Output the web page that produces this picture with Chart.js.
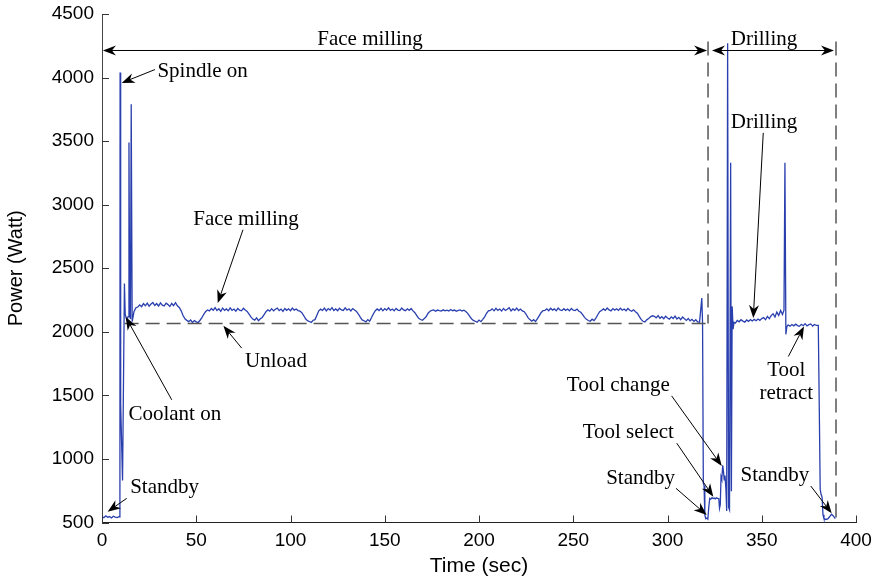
<!DOCTYPE html>
<html>
<head>
<meta charset="utf-8">
<script src="https://cdn.jsdelivr.net/npm/chart.js@4.4.1/dist/chart.umd.min.js"></script>
<style>
  html, body { margin: 0; padding: 0; background: #fff; }
  #wrap { width: 878px; height: 583px; }
</style>
</head>
<body>
<div id="wrap"><canvas id="powerChart" width="878" height="583"></canvas></div>
<script>
// measured machine power over one face milling + drilling cycle
const timeSec = [
  0, 1, 2, 3, 4, 5, 6, 7, 8, 9, 9.5,
  9.6, 9.9, 10.9, 11.9, 12.3, 12.8, 13.3, 13.8, 14.3, 14.7, 15.1, 15.5, 16.0, 16.5, 17, 18,
  19, 20, 21, 22, 23, 24, 25, 26, 27, 28, 29, 30, 31, 32, 33, 34, 35, 36, 37, 38, 39, 40, 41,
  42, 43, 44, 45, 46, 47, 48, 49, 50, 51, 52, 53, 54, 55, 56,
  57, 58, 59, 60, 61, 62, 63, 64, 65, 66, 67, 68, 69, 70, 71, 72, 73, 74, 75, 76, 77,
  78, 79, 80, 81, 82, 83, 84, 85, 86, 87,
  88, 89, 90, 91, 92, 93, 94, 95, 96, 97, 98, 99, 100, 101, 102, 103, 104, 105,
  106, 107, 108, 109, 110, 111, 112, 113, 114, 115,
  116, 117, 118, 119, 120, 121, 122, 123, 124, 125, 126, 127, 128, 129, 130, 131, 132, 133, 134, 135,
  136, 137, 138, 139, 140, 141, 142, 143, 144, 145,
  146, 147, 148, 149, 150, 151, 152, 153, 154, 155, 156, 157, 158, 159, 160, 161, 162, 163, 164, 165,
  166, 167, 168, 169, 170, 171, 172, 173, 174,
  175, 176, 177, 178, 179, 180, 181, 182, 183, 184, 185, 186, 187, 188, 189, 190, 191, 192, 193,
  194, 195, 196, 197, 198, 199, 200, 201, 202, 203, 204, 205,
  206, 207, 208, 209, 210, 211, 212, 213, 214, 215, 216, 217, 218, 219, 220, 221, 222, 223, 224,
  225, 226, 227, 228, 229, 230, 231, 232, 233, 234,
  235, 236, 237, 238, 239, 240, 241, 242, 243, 244, 245, 246, 247, 248, 249, 250, 251, 252, 253, 254,
  255, 256, 257, 258, 259, 260, 261, 262, 263, 264,
  265, 266, 267, 268, 269, 270, 271, 272, 273, 274, 275, 276, 277, 278, 279, 280, 281, 282, 283, 284,
  285, 286, 287, 288, 289, 290, 291, 292,
  293, 294, 295, 296, 297, 298, 299, 300, 301, 302, 303, 304, 305, 306, 307, 308, 309, 310, 311, 312,
  313, 314, 315, 316, 317,
  318.2, 318.6, 319.0, 319.4, 319.8, 320.3, 320.9, 321.4, 321.9, 322.4, 323, 323.6, 324.2, 324.8,
  325.4, 326, 326.6, 327.2, 327.6, 328.0, 328.4, 328.8, 329.3, 329.7, 330.1, 330.5, 331.0, 331.4,
  331.9, 332.4, 332.9, 333.5, 333.9, 334.3, 334.8, 335.3,
  336, 337, 338, 339, 340, 341, 342, 343, 344, 345, 346, 347, 348, 349, 350, 351, 352, 353, 354,
  355, 356, 357, 358, 359, 360, 361, 361.8,
  362.3, 362.8, 363.3, 364, 365, 366, 367, 368, 369, 370, 371, 372, 373, 374, 375, 376, 377, 378,
  379, 380, 380.6, 381.0, 381.5, 382.0, 382.5, 383, 384, 385, 386, 387, 388, 389
];
const powerW = [
  545, 538, 552, 541, 547, 536, 549, 543, 539, 546, 544,
  4040, 1430, 830, 2380, 2140, 2110, 2090, 2120, 3490, 2130, 2100, 3790, 2080, 2120, 2160, 2190,
  2195, 2212, 2198, 2222, 2205, 2226, 2202, 2218, 2230, 2207, 2222, 2203, 2228, 2210, 2204, 2225, 2214, 2199, 2223, 2206, 2229, 2204, 2192,
  2165, 2128, 2102, 2090, 2080, 2093, 2074, 2089, 2078, 2072, 2091, 2112, 2138, 2160, 2172,
  2165, 2184, 2170, 2190, 2167, 2181, 2161, 2187, 2169, 2180, 2165, 2188, 2168, 2179, 2162, 2184, 2170, 2165, 2185, 2171, 2160,
  2140, 2118, 2100, 2092, 2110, 2088, 2103, 2113, 2135, 2158,
  2173, 2163, 2182, 2165, 2178, 2187, 2167, 2179, 2161, 2184, 2169, 2181, 2166, 2187, 2171, 2180, 2167, 2163,
  2150, 2128, 2102, 2088, 2081, 2074, 2091, 2096, 2130, 2165,
  2178, 2168, 2186, 2165, 2183, 2171, 2190, 2167, 2180, 2166, 2185, 2172, 2168, 2188, 2170, 2181, 2164, 2183, 2171, 2160,
  2140, 2115, 2094, 2087, 2078, 2096, 2084, 2112, 2142, 2166,
  2180, 2167, 2185, 2165, 2182, 2170, 2189, 2168, 2179, 2165, 2184, 2171, 2167, 2187, 2172, 2166, 2181, 2169, 2183, 2165,
  2150, 2128, 2106, 2097, 2091, 2104, 2120, 2146, 2162,
  2168, 2172, 2162, 2171, 2167, 2164, 2173, 2165, 2170, 2163, 2175, 2166, 2171, 2162, 2169, 2172, 2164, 2170, 2160,
  2145, 2124, 2103, 2090, 2083, 2076, 2092, 2080, 2098, 2118, 2146, 2165,
  2168, 2181, 2165, 2185, 2169, 2179, 2163, 2184, 2168, 2178, 2190, 2165, 2180, 2169, 2187, 2167, 2179, 2164, 2158,
  2138, 2112, 2096, 2083, 2095, 2081, 2104, 2128, 2152, 2167,
  2169, 2181, 2166, 2185, 2171, 2180, 2165, 2187, 2172, 2167, 2182, 2169, 2179, 2165, 2184, 2170, 2167, 2179, 2162, 2154,
  2135, 2114, 2098, 2089, 2083, 2099, 2088, 2108, 2134, 2158,
  2168, 2180, 2169, 2187, 2172, 2165, 2183, 2171, 2181, 2168, 2185, 2170, 2179, 2166, 2183, 2169, 2162, 2173, 2158, 2146,
  2122, 2098, 2083, 2078, 2094, 2104, 2118, 2126,
  2122, 2110, 2127, 2106, 2119, 2103, 2122, 2109, 2100, 2118, 2105, 2123, 2101, 2114, 2096, 2116, 2103, 2090, 2105, 2086,
  2098, 2082, 2095, 2078, 2076,
  2265, 2070, 810, 790, 560, 530, 535, 526, 620, 690, 684, 695, 688, 692,
  686, 694, 690, 688, 612, 640, 860, 840, 950, 900, 835, 870, 760, 590,
  4270, 620, 600, 3330, 745, 2200, 2020, 2075,
  2068, 2090, 2079, 2095, 2084, 2076, 2093, 2082, 2096, 2085, 2098, 2087, 2101, 2090, 2104, 2112, 2095, 2121, 2103,
  2127, 2142, 2116, 2155, 2128, 2168, 2136, 2170,
  3330, 1980, 2040, 2054, 2044, 2057, 2047, 2060, 2049, 2043, 2059, 2048, 2064, 2046, 2056, 2062, 2045, 2058,
  2050, 2050, 1300, 760, 720, 700, 560, 530, 524, 528, 545, 565, 552, 530
];

// dashed reference lines
const unloadTime = [12, 321.5];
const unloadPower = [2065, 2065];
const boundaryTime = [321.5, 389.4];
const boundaryTop = 4283;
const boundaryBottom = [2065, 520];

const xTickValues = [0, 50, 100, 150, 200, 250, 300, 350, 400];
const yTickValues = [500, 1000, 1500, 2000, 2500, 3000, 3500, 4000, 4500];

// phase spans across the top: arrow from x0 to x1 at height y, label above
const phaseSpans = [
  { text: 'Face milling', x0: 0.5, x1: 321, y: 4213, tx: 142.2, ty: 4300 },
  { text: 'Drilling', x0: 323.6, x1: 388.3, y: 4213, tx: 351.2, ty: 4300 }
];

// callouts: text centre (tx, ty), arrow from (ax, ay) to tip (bx, by), data units
const callouts = [
  { text: ['Spindle on'], tx: 29.4, ty: 4047, align: 'left', ax: 28.1, ay: 4063, bx: 10.45, by: 3958 },
  { text: ['Face milling'], tx: 76.4, ty: 2882, align: 'center', ax: 74.8, ay: 2803, bx: 61.4, by: 2226 },
  { text: ['Unload'], tx: 92.3, ty: 1764, align: 'center', ax: 74.1, ay: 1872, bx: 64.4, by: 2047 },
  { text: ['Coolant on'], tx: 38.6, ty: 1346, align: 'center', ax: 37.0, ay: 1465, bx: 12.6, by: 2116 },
  { text: ['Standby'], tx: 33.2, ty: 777, align: 'center', ax: 13.1, ay: 690, bx: 3.0, by: 585 },
  { text: ['Tool change'], tx: 273.9, ty: 1575, align: 'center', ax: 302.2, ay: 1496, bx: 328.8, by: 945 },
  { text: ['Tool select'], tx: 279.2, ty: 1207, align: 'center', ax: 304.9, ay: 1124, bx: 324.3, by: 703 },
  { text: ['Standby'], tx: 285.7, ty: 848, align: 'center', ax: 304.5, ay: 769, bx: 320.8, by: 559 },
  { text: ['Standby'], tx: 357.0, ty: 866, align: 'center', ax: 376.0, ay: 787, bx: 387.1, by: 572 },
  { text: ['Tool', 'retract'], tx: 363.0, ty: 1695, align: 'center', ax: 364.1, ay: 1806, bx: 372.4, by: 2042 },
  { text: ['Drilling'], tx: 351.2, ty: 3643, align: 'center', ax: 350.8, ay: 3565, bx: 345.5, by: 2108 }
];

const SERIF = '21px "Liberation Serif", "Times New Roman", serif';
const SANS = '"Liberation Sans", Arial, sans-serif';

function arrowHead(ctx, x1, y1, x2, y2) {
  const a = Math.atan2(y2 - y1, x2 - x1);
  ctx.save();
  ctx.translate(x2, y2);
  ctx.rotate(a);
  ctx.beginPath();
  ctx.moveTo(0, 0);
  ctx.lineTo(-13, -5);
  ctx.lineTo(-9, 0);
  ctx.lineTo(-13, 5);
  ctx.closePath();
  ctx.fill();
  ctx.restore();
}

const annotatePlugin = {
  id: 'annotate',
  afterDraw(chart) {
    const ctx = chart.ctx;
    const xs = chart.scales.x, ys = chart.scales.y;
    const area = chart.chartArea;
    ctx.save();
    ctx.fillStyle = '#000';

    // inward tick marks
    ctx.lineWidth = 1;
    ctx.strokeStyle = '#333';
    yTickValues.forEach(v => {
      const py = Math.round(ys.getPixelForValue(v)) + 0.5;
      ctx.beginPath(); ctx.moveTo(area.left, py); ctx.lineTo(area.left + 7, py); ctx.stroke();
    });
    xTickValues.forEach(v => {
      const px = Math.round(xs.getPixelForValue(v)) + 0.5;
      ctx.beginPath(); ctx.moveTo(px, area.bottom); ctx.lineTo(px, area.bottom - 7); ctx.stroke();
    });

    // top phase spans
    ctx.strokeStyle = '#000';
    ctx.font = SERIF;
    ctx.textAlign = 'center';
    ctx.textBaseline = 'middle';
    phaseSpans.forEach(s => {
      const x0 = xs.getPixelForValue(s.x0), x1 = xs.getPixelForValue(s.x1);
      const py = ys.getPixelForValue(s.y);
      ctx.beginPath(); ctx.moveTo(x0 + 8, py); ctx.lineTo(x1 - 8, py); ctx.stroke();
      arrowHead(ctx, x1, py, x0, py);
      arrowHead(ctx, x0, py, x1, py);
      ctx.fillText(s.text, xs.getPixelForValue(s.tx), ys.getPixelForValue(s.ty));
    });

    // callouts
    callouts.forEach(c => {
      const ax = xs.getPixelForValue(c.ax), ay = ys.getPixelForValue(c.ay);
      const bx = xs.getPixelForValue(c.bx), by = ys.getPixelForValue(c.by);
      const ang = Math.atan2(by - ay, bx - ax);
      ctx.beginPath();
      ctx.moveTo(ax, ay);
      ctx.lineTo(bx - Math.cos(ang) * 9, by - Math.sin(ang) * 9);
      ctx.stroke();
      arrowHead(ctx, ax, ay, bx, by);
      ctx.textAlign = c.align;
      const tx = xs.getPixelForValue(c.tx);
      const ty = ys.getPixelForValue(c.ty);
      c.text.forEach((line, i) => ctx.fillText(line, tx, ty + i * 22.6));
    });
    ctx.restore();
  }
};

const points = timeSec.map((t, i) => ({ x: t, y: powerW[i] }));
const unloadPts = unloadTime.map((t, i) => ({ x: t, y: unloadPower[i] }));

const dashStyle = {
  borderColor: '#555',
  borderWidth: 1.5,
  borderDash: [14, 7],
  pointRadius: 0,
  showLine: true,
  fill: false
};

new Chart(document.getElementById('powerChart'), {
  type: 'scatter',
  data: {
    datasets: [
      Object.assign({ data: unloadPts }, dashStyle),
      ...boundaryTime.map((t, i) => Object.assign({
        data: [{ x: t, y: boundaryTop }, { x: t, y: boundaryBottom[i] }]
      }, dashStyle)),
      {
        data: points,
        borderColor: '#2a3fae',
        borderWidth: 1.3,
        pointRadius: 0,
        showLine: true,
        fill: false,
        tension: 0
      }
    ]
  },
  options: {
    responsive: false,
    animation: false,
    layout: { padding: { top: 14, right: 22, left: 0, bottom: 0 } },
    plugins: { legend: { display: false }, tooltip: { enabled: false } },
    scales: {
      x: {
        type: 'linear',
        min: 0,
        max: 400,
        afterFit: s => { s.height = 60.5; s.paddingLeft = 0; s.paddingRight = 0; },
        afterBuildTicks: s => { s.ticks = xTickValues.map(v => ({ value: v })); },
        grid: { display: false, drawTicks: false },
        border: { display: true, color: '#222', width: 1 },
        ticks: {
          color: '#000',
          padding: 7,
          maxRotation: 0,
          callback: v => String(v),
          font: { family: SANS, size: 19 }
        },
        title: {
          display: true,
          text: 'Time (sec)',
          color: '#000',
          padding: { top: 4, bottom: 4 },
          font: { family: SANS, size: 21 }
        }
      },
      y: {
        type: 'linear',
        min: 500,
        max: 4500,
        afterFit: s => { s.width = 102; s.paddingTop = 0; s.paddingBottom = 0; },
        afterBuildTicks: s => { s.ticks = yTickValues.map(v => ({ value: v })); },
        grid: { display: false, drawTicks: false },
        border: { display: true, color: '#444', width: 1 },
        ticks: {
          color: '#000',
          padding: 8,
          callback: v => String(v),
          font: { family: SANS, size: 19 }
        },
        title: {
          display: true,
          text: 'Power (Watt)',
          color: '#000',
          padding: { top: 4, bottom: 4 },
          font: { family: SANS, size: 20 }
        }
      }
    }
  },
  plugins: [annotatePlugin]
});
</script>
</body>
</html>
